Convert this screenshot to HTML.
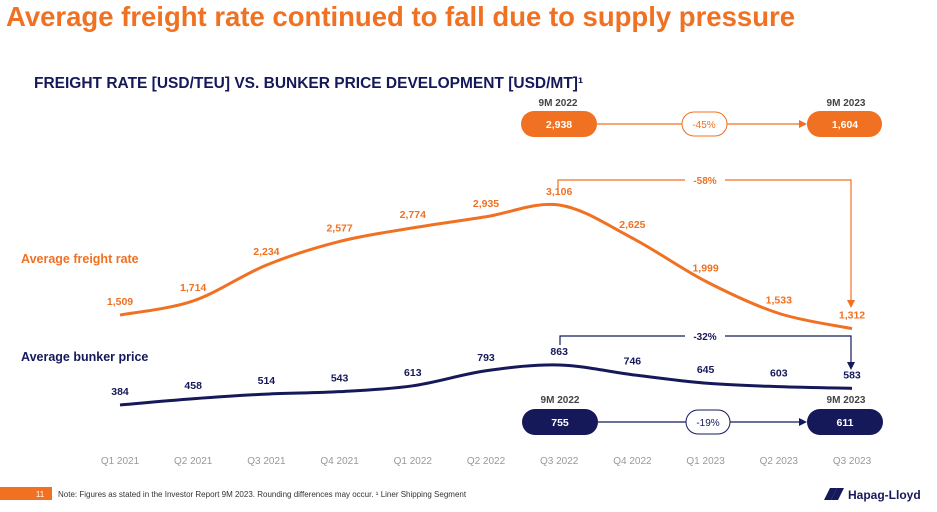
<!DOCTYPE html>
<html><head><meta charset="utf-8"><style>
body{margin:0;width:937px;height:512px;background:#fff;overflow:hidden;font-family:"Liberation Sans",Arial,sans-serif}
svg{position:absolute;left:0;top:0}
</style></head><body>
<svg id="c" width="937" height="512" font-family="Liberation Sans, Arial, sans-serif">
<text x="6" y="26" font-size="27.5" font-weight="bold" fill="#f07122">Average freight rate continued to fall due to supply pressure</text>
<text x="34" y="88" font-size="15.5" font-weight="bold" fill="#15195a">FREIGHT RATE [USD/TEU] VS. BUNKER PRICE DEVELOPMENT [USD/MT]¹</text>
<text x="21" y="263" font-size="12.5" font-weight="bold" fill="#f07122">Average freight rate</text>
<text x="21" y="361" font-size="12.5" font-weight="bold" fill="#15195a">Average bunker price</text>
<g id="marks"></g>
<text x="558" y="106" font-size="10" font-weight="bold" fill="#444" text-anchor="middle">9M 2022</text>
<text x="846" y="106" font-size="10" font-weight="bold" fill="#444" text-anchor="middle">9M 2023</text>
<line x1="597" y1="124" x2="800" y2="124" stroke="#f07122" stroke-width="1.2"/>
<polygon points="799,120 807,124 799,128" fill="#f07122"/>
<rect x="521" y="111" width="76" height="26" rx="13" fill="#f07122"/>
<text x="559" y="128" font-size="10.5" font-weight="bold" fill="#fff" text-anchor="middle">2,938</text>
<rect x="807" y="111" width="75" height="26" rx="13" fill="#f07122"/>
<text x="845" y="128" font-size="10.5" font-weight="bold" fill="#fff" text-anchor="middle">1,604</text>
<rect x="682" y="112" width="45" height="24" rx="12" fill="#fff" stroke="#f07122"/>
<text x="704" y="128" font-size="10" fill="#f07122" text-anchor="middle">-45%</text>
<polyline points="558,188 558,180 685,180" fill="none" stroke="#f07122" stroke-width="1.2"/>
<polyline points="725,180 851,180 851,300" fill="none" stroke="#f07122" stroke-width="1.2"/>
<polygon points="847,300 855,300 851,308" fill="#f07122"/>
<text x="705" y="184" font-size="10" font-weight="bold" fill="#f07122" text-anchor="middle">-58%</text>
<polyline points="560,345 560,336 685,336" fill="none" stroke="#15195a" stroke-width="1.2"/>
<polyline points="725,336 851,336 851,362" fill="none" stroke="#15195a" stroke-width="1.2"/>
<polygon points="847,362 855,362 851,370" fill="#15195a"/>
<text x="705" y="340" font-size="10" font-weight="bold" fill="#15195a" text-anchor="middle">-32%</text>
<text x="560" y="403" font-size="10" font-weight="bold" fill="#444" text-anchor="middle">9M 2022</text>
<text x="846" y="403" font-size="10" font-weight="bold" fill="#444" text-anchor="middle">9M 2023</text>
<line x1="597" y1="422" x2="800" y2="422" stroke="#15195a" stroke-width="1.2"/>
<polygon points="799,418 807,422 799,426" fill="#15195a"/>
<rect x="522" y="409" width="76" height="26" rx="13" fill="#15195a"/>
<text x="560" y="426" font-size="10.5" font-weight="bold" fill="#fff" text-anchor="middle">755</text>
<rect x="807" y="409" width="76" height="26" rx="13" fill="#15195a"/>
<text x="845" y="426" font-size="10.5" font-weight="bold" fill="#fff" text-anchor="middle">611</text>
<rect x="686" y="410" width="44" height="24" rx="12" fill="#fff" stroke="#15195a"/>
<text x="708" y="426" font-size="10" fill="#15195a" text-anchor="middle">-19%</text>
<rect x="0" y="487" width="52" height="13" fill="#f07122"/>
<text x="40" y="497" font-size="8" fill="#fff" text-anchor="middle">11</text>
<text x="58" y="497" font-size="8" fill="#333">Note: Figures as stated in the Investor Report 9M 2023. Rounding differences may occur.   ¹ Liner Shipping Segment</text>
<g>
<polygon points="830,488 837,488 831,500 824,500" fill="#15195a"/><polygon points="837,488 844,488 838,500 831,500" fill="#15195a"/>
<text x="848" y="499" font-size="12" font-weight="bold" fill="#15195a">Hapag-Lloyd</text></g>
</svg>
<script>
const quarters=["Q1 2021","Q2 2021","Q3 2021","Q4 2021","Q1 2022","Q2 2022","Q3 2022","Q4 2022","Q1 2023","Q2 2023","Q3 2023"];
const freightValues=[1509,1714,2234,2577,2774,2935,3106,2625,1999,1533,1312];
const bunkerValues=[384,458,514,543,613,793,863,746,645,603,583];
const NS="http://www.w3.org/2000/svg";
const g=document.getElementById('marks');
const xS=i=>120+i*73.2;
const yF=v=>419-v*0.0689;
const yB=v=>437-v*0.0835;
function path(pts){let d=`M${pts[0][0]},${pts[0][1]}`;for(let i=0;i<pts.length-1;i++){const p0=pts[i-1]||pts[i],p1=pts[i],p2=pts[i+1],p3=pts[i+2]||p2;d+=` C${p1[0]+(p2[0]-p0[0])/6},${p1[1]+(p2[1]-p0[1])/6} ${p2[0]-(p3[0]-p1[0])/6},${p2[1]-(p3[1]-p1[1])/6} ${p2[0]},${p2[1]}`;}return d;}
function series(vals,y,col,name){
const p=document.createElementNS(NS,'path');
p.setAttribute('d',path(vals.map((v,i)=>[xS(i),y(v)])));
p.setAttribute('fill','none');p.setAttribute('stroke',col);p.setAttribute('stroke-width','3');


g.appendChild(p);
vals.forEach((v,i)=>{const t=document.createElementNS(NS,'text');
t.setAttribute('x',xS(i));t.setAttribute('y',y(v)-10);t.setAttribute('text-anchor','middle');
t.setAttribute('font-size','10.5');t.setAttribute('font-weight','bold');t.setAttribute('fill',col);
t.textContent=v.toLocaleString('en-US');


g.appendChild(t);});
}
series(freightValues,yF,'#f07122','freight');
series(bunkerValues,yB,'#15195a','bunker');
quarters.forEach((q,i)=>{const t=document.createElementNS(NS,'text');
t.setAttribute('x',xS(i));t.setAttribute('y',464);t.setAttribute('text-anchor','middle');
t.setAttribute('font-size','10');t.setAttribute('fill','#999');t.textContent=q;


g.appendChild(t);});
</script>
</body></html>
